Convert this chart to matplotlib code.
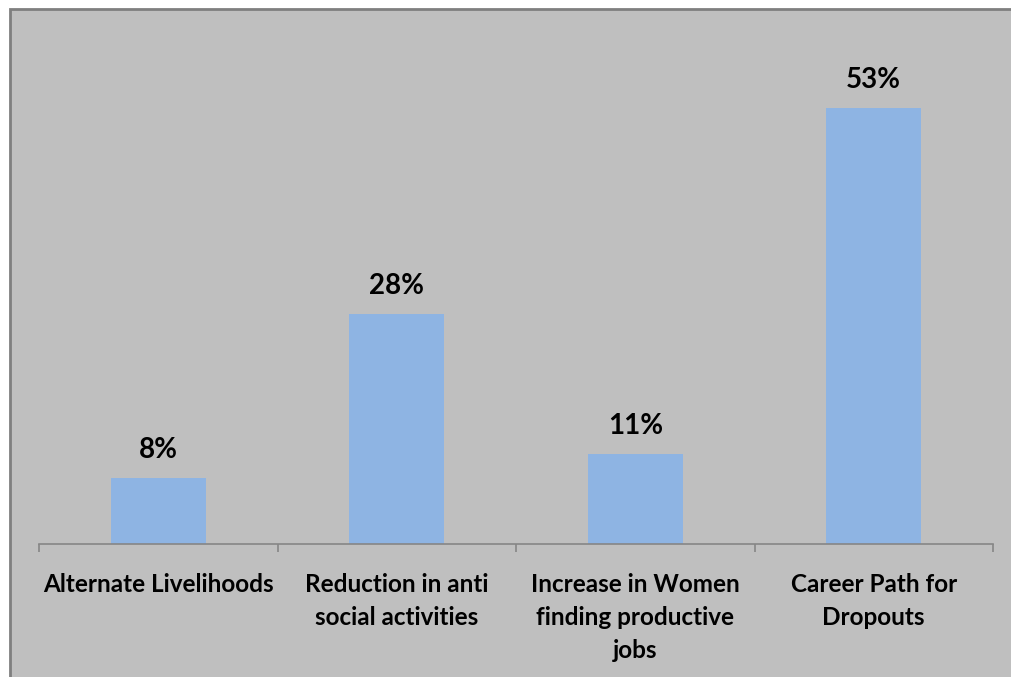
import matplotlib
matplotlib.use("Agg")
import matplotlib.pyplot as plt
from matplotlib.patches import Rectangle

categories = [
    "Alternate Livelihoods",
    "Reduction in anti\nsocial activities",
    "Increase in Women\nfinding productive\njobs",
    "Career Path for\nDropouts",
]
shares = [0.08, 0.28, 0.11, 0.53]
share_labels = ["8%", "28%", "11%", "53%"]

W, H = 1011, 677
fig = plt.figure(figsize=(W / 100, H / 100), dpi=100)
fig.patch.set_facecolor("white")

# grey chart frame
fig.patches.append(Rectangle((10 / W, -0.05), 1.1, (H - 9) / H + 0.05,
                             transform=fig.transFigure, facecolor="#BFBFBF",
                             edgecolor="#7F7F7F", linewidth=2, zorder=-5))

# figure caption, sitting mostly above the page edge
fig.text(10 / W, 1 + 5.5 / H,
         "Fig 3: Impact of Skill Training on the Local Community as Perceived by the Youth",
         fontsize=17, color="#17365D", fontweight="bold", fontstyle="italic",
         family="Liberation Serif", ha="left", va="baseline")

left, right = 39 / W, 993 / W
base, top = 544, 30
ax = fig.add_axes([left, (H - base) / H, right - left, (base - top) / H])
ax.set_facecolor("none")
ax.set_zorder(2)

x = list(range(len(categories)))
ax.bar(x, shares, width=0.4, color="#8EB4E3", zorder=2)
for xi, v, lab in zip(x, shares, share_labels):
    ax.annotate(lab, (xi, v), xytext=(0, 14.4), textcoords="offset points",
                ha="center", va="baseline", fontsize=20, fontweight="bold",
                family="Lato", color="black")

ax.set_xlim(-0.5, len(categories) - 0.5)
ax.set_ylim(0, (base - top) / 822)
ax.set_yticks([])
for s in ("top", "right", "left"):
    ax.spines[s].set_visible(False)
ax.spines["bottom"].set_color("#868686")
ax.spines["bottom"].set_linewidth(1.2)

ax.set_xticks(x)
ax.set_xticklabels(categories, fontsize=17.5, fontweight="bold", family="Lato",
                   linespacing=1.52)
ax.tick_params(axis="x", which="major", length=0, pad=21)
ax.set_xticks([i - 0.5 for i in range(len(categories) + 1)], minor=True)
ax.tick_params(axis="x", which="minor", length=6, width=1.2, color="#868686",
               direction="out")

fig.savefig("out.png", dpi=100)
